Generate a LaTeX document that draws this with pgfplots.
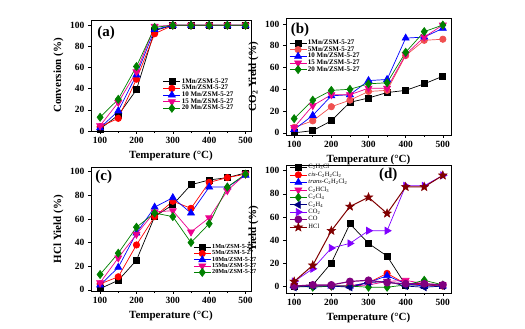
\documentclass[border=0pt]{standalone}
\usepackage{fontspec}
\setmainfont{Liberation Serif}
\usepackage{pgfplots}
\pgfplotsset{compat=1.18}
\definecolor{dgreen}{RGB}{0,128,0}
\definecolor{lred}{RGB}{240,80,80}
\definecolor{navy}{RGB}{0,0,128}
\definecolor{violet2}{RGB}{128,0,255}
\definecolor{purple2}{RGB}{128,0,128}
\definecolor{dred}{RGB}{128,0,0}
\pgfdeclareplotmark{fstar}{%
  \pgfpathmoveto{\pgfqpointpolar{90}{\pgfplotmarksize}}%
  \pgfpathlineto{\pgfqpointpolar{126}{0.42\pgfplotmarksize}}%
  \pgfpathlineto{\pgfqpointpolar{162}{\pgfplotmarksize}}%
  \pgfpathlineto{\pgfqpointpolar{198}{0.42\pgfplotmarksize}}%
  \pgfpathlineto{\pgfqpointpolar{234}{\pgfplotmarksize}}%
  \pgfpathlineto{\pgfqpointpolar{270}{0.42\pgfplotmarksize}}%
  \pgfpathlineto{\pgfqpointpolar{306}{\pgfplotmarksize}}%
  \pgfpathlineto{\pgfqpointpolar{342}{0.42\pgfplotmarksize}}%
  \pgfpathlineto{\pgfqpointpolar{18}{\pgfplotmarksize}}%
  \pgfpathlineto{\pgfqpointpolar{54}{0.42\pgfplotmarksize}}%
  \pgfpathclose
  \pgfusepathqfillstroke}
\pgfplotsset{
 myax/.style={scale only axis, tick align=outside, xtick pos=bottom, ytick pos=left,
  xtick={100,200,...,500}, minor xtick={150,250,350,450}, ytick={0,20,...,100},
  axis line style={line width=0.9pt},
  every tick/.style={black, line width=0.6pt}, major tick length=3pt, minor tick length=2pt,
  tick label style={font=\bfseries\fontsize{9.5}{10}\selectfont},
  label style={font=\bfseries\fontsize{11}{12}\selectfont},
  xlabel={Temperature (°C)},
  every axis plot/.append style={line width=0.7pt},
  legend style={draw=none, fill=none, font=\bfseries\fontsize{7}{8}\selectfont, row sep=-1.5pt, nodes={inner sep=1pt}},
  legend cell align=left,
  /pgf/number format/assume math mode=true},
 s1/.style={black, mark=square*, mark size=3pt},
 s2/.style={red, mark=*, mark size=3.2pt},
 s3/.style={blue, mark=triangle*, mark size=4pt},
 s4/.style={magenta, mark=triangle*, mark size=4pt, mark options={rotate=180}},
 s5/.style={dgreen, mark=diamond*, mark size=4pt},
}
\begin{document}
\begin{tikzpicture}
\path[use as bounding box] (0,0) rectangle (525pt,329pt);
% (a)
\begin{axis}[myax, at={(91pt,198pt)}, anchor=south west, width=160pt, height=111pt,
  xmin=75, xmax=515, ymin=0, ymax=105, ylabel={Conversion (\%)},
  legend style={at={(0.43,0.5)}, anchor=north west}]
\addplot[s1] coordinates {(100,2) (150,15) (200,39) (250,95) (300,100) (350,100) (400,100) (450,100) (500,100)};
\addplot[s2] coordinates {(100,4) (150,12) (200,49) (250,92) (300,100) (350,100) (400,100) (450,100) (500,100)};
\addplot[s3] coordinates {(100,3) (150,19) (200,53) (250,96) (300,100) (350,100) (400,100) (450,100) (500,100)};
\addplot[s4] coordinates {(100,5) (150,27) (200,56) (250,99) (300,100) (350,100) (400,100) (450,100) (500,100)};
\addplot[s5] coordinates {(100,13) (150,30) (200,61) (250,98) (300,100) (350,100) (400,100) (450,100) (500,100)};
\legend{1Mn/ZSM-5-27,5Mn/ZSM-5-27,10 Mn/ZSM-5-27,15 Mn/ZSM-5-27,20 Mn/ZSM-5-27}
\node[font=\bfseries\fontsize{15}{16}\selectfont] at (rel axis cs:0.094,0.88) {(a)};
\end{axis}
% (b)
\begin{axis}[myax, at={(286pt,194pt)}, anchor=south west, width=165pt, height=117pt,
  xmin=78, xmax=522, ymin=-2, ymax=105.5, ylabel={CO\textsubscript{2} Yield (\%)},
  legend style={at={(0.0,0.84)}, anchor=north west}]
\addplot[s1] coordinates {(100,0) (150,2) (200,11) (250,28) (300,32) (350,37) (400,39) (450,45) (500,52)};
\addplot[s2, color=lred] coordinates {(100,5) (150,11) (200,24) (250,30) (300,38) (350,39) (400,71) (450,85) (500,86)};
\addplot[s3] coordinates {(100,3) (150,16) (200,34) (250,35) (300,48) (350,49) (400,87) (450,88) (500,96)};
\addplot[s4] coordinates {(100,5) (150,25) (200,35) (250,35) (300,41) (350,41) (400,72) (450,88) (500,99)};
\addplot[s5] coordinates {(100,13) (150,30) (200,39) (250,40) (300,45) (350,46) (400,74) (450,93) (500,99)};
\legend{1Mn/ZSM-5-27,5Mn/ZSM-5-27,10 Mn/ZSM-5-27,15 Mn/ZSM-5-27,20 Mn/ZSM-5-27}
\node[font=\bfseries\fontsize{15}{16}\selectfont] at (rel axis cs:0.085,0.9) {(b)};
\end{axis}
% (c)
\begin{axis}[myax, at={(91pt,38pt)}, anchor=south west, width=160pt, height=124pt,
  xmin=75, xmax=515, ymin=-1, ymax=104, ylabel={HCl Yield (\%)},
  legend style={at={(0.62,0.4)}, anchor=north west, font=\bfseries\fontsize{6.2}{7}\selectfont}]
\addplot[s1] coordinates {(100,1) (150,8) (200,25) (250,62) (300,72) (350,89) (400,93) (450,95) (500,99)};
\addplot[s2] coordinates {(100,5) (150,11) (200,38) (250,62) (300,75) (350,69) (400,91) (450,95) (500,98)};
\addplot[s3] coordinates {(100,4) (150,19) (200,48) (250,70) (300,78) (350,65) (400,87) (450,87) (500,97)};
\addplot[s4] coordinates {(100,6) (150,27) (200,47) (250,66) (300,67) (350,49) (400,61) (450,84) (500,98)};
\addplot[s5] coordinates {(100,13) (150,31) (200,53) (250,65) (300,62) (350,40) (400,56) (450,87) (500,98)};
\legend{1Mn/ZSM-5-27,5Mn/ZSM-5-27,10Mn/ZSM-5-27,15Mn/ZSM-5-27,20Mn/ZSM-5-27}
\node[font=\bfseries\fontsize{15}{16}\selectfont] at (rel axis cs:0.08,0.92) {(c)};
\end{axis}
% (d)
\begin{axis}[myax, at={(286pt,36pt)}, anchor=south west, width=165pt, height=128pt,
  xmin=78, xmax=522, ymin=-6, ymax=105, ylabel={Yield (\%)},
  legend style={at={(0.0,1.03)}, anchor=north west, font=\fontsize{6.5}{7}\selectfont, row sep=-0.5pt}]
\addplot[s1] coordinates {(100,0) (150,1) (200,20) (250,54) (300,37) (350,26) (400,1) (450,1) (500,1)};
\addplot[s2] coordinates {(100,0) (150,0) (200,0) (250,0) (300,3) (350,11) (400,2) (450,1) (500,0)};
\addplot[s3] coordinates {(100,0) (150,0) (200,0) (250,0) (300,3) (350,9) (400,2) (450,0) (500,0)};
\addplot[s4] coordinates {(100,0) (150,0) (200,0) (250,0) (300,1) (350,4) (400,5) (450,2) (500,1)};
\addplot[s5] coordinates {(100,0) (150,-1) (200,0) (250,0) (300,-1) (350,-1) (400,1) (450,5) (500,1)};
\addplot[navy, mark=triangle*, mark size=4pt, mark options={rotate=90}] coordinates {(100,-1) (150,0) (200,0) (250,-1) (300,3) (350,4) (400,0) (450,-1) (500,0)};
\addplot[violet2, mark=triangle*, mark size=4pt, mark options={rotate=-90}] coordinates {(100,4) (150,15) (200,33) (250,37) (300,48) (350,48) (400,87) (450,87) (500,96)};
\addplot[purple2, mark=*, mark size=3.3pt, line width=1.2pt] coordinates {(100,0) (150,1) (200,1) (250,4) (300,5) (350,3) (400,2) (450,2) (500,1)};
\addplot[dred, mark=fstar, mark size=4.5pt, line width=1pt, mark options={line width=0.5pt}] coordinates {(100,4) (150,18) (200,48) (250,69) (300,77) (350,63) (400,86) (450,86) (500,96)};
\legend{C\textsubscript{2}H\textsubscript{3}Cl,\textit{cis}-C\textsubscript{2}H\textsubscript{2}Cl\textsubscript{2},\textit{trans}-C\textsubscript{2}H\textsubscript{2}Cl\textsubscript{2},C\textsubscript{2}HCl\textsubscript{3},C\textsubscript{2}Cl\textsubscript{4},C\textsubscript{2}H\textsubscript{4},CO\textsubscript{2},CO,HCl}
\node[font=\bfseries\fontsize{15}{16}\selectfont] at (rel axis cs:0.62,0.92) {(d)};
\end{axis}
\end{tikzpicture}
\end{document}
